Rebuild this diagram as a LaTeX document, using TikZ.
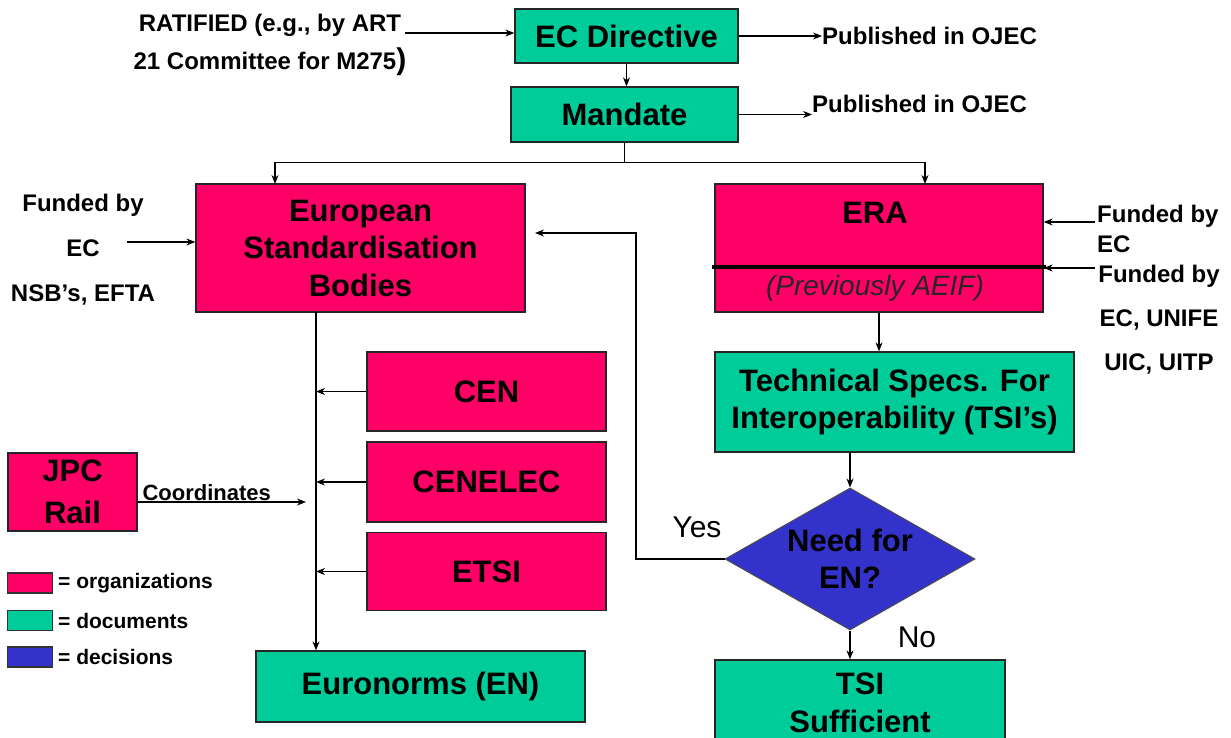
\documentclass[tikz,border=0pt]{standalone}
\usepackage{fontspec}
\setmainfont{Liberation Sans}
\usetikzlibrary{shapes.geometric,arrows.meta}

\definecolor{orgpink}{HTML}{FF0066}
\definecolor{docgreen}{HTML}{00CC99}
\definecolor{decblue}{HTML}{3333CC}

\tikzset{
  box/.style={draw=black!85, line width=1.3pt, inner sep=0pt, align=center,
    font=\fontsize{31}{37.5}\selectfont\bfseries},
  org/.style={box, fill=orgpink},
  doc/.style={box, fill=docgreen},
  note/.style={inner sep=0pt, align=center, font=\fontsize{24}{30}\selectfont\bfseries},
  legbox/.style={draw=black!80, line width=1.2pt, minimum width=45pt, minimum height=20pt, inner sep=0pt},
  legtext/.style={inner sep=0pt, anchor=west, font=\fontsize{21}{21}\selectfont\bfseries},
  link/.style={line width=1.1pt, -{Stealth[length=9pt,width=7pt]}},
  plain/.style={line width=1.1pt},
}

\begin{document}
\begin{tikzpicture}[x=1pt,y=-1pt]
\clip (0,0) rectangle (1231,738);
\fill[white] (0,0) rectangle (1231,738);

% top: directive and mandate
\node[doc, minimum width=223pt, minimum height=54pt] (ecdir) at (626.5,36) {EC Directive};
\node[doc, minimum width=227pt, minimum height=55pt] (mandate) at (624.5,114.5) {Mandate};
\node[note, align=center, font=\fontsize{24}{38}\selectfont\bfseries] (ratified) at (270,45)
  {RATIFIED (e.g., by ART\\21 Committee for M275{\fontsize{30}{30}\selectfont)}};
\node[note, anchor=west] (pub1) at (822,36) {Published in OJEC};
\node[note, anchor=west] (pub2) at (812,104) {Published in OJEC};

\coordinate (ratarrow) at (405,33);
\draw[link] (ratarrow) -- (ratarrow -| ecdir.west);
\draw[link] (ecdir.east) -- (pub1.west);
\draw[link] (mandate.east) -- (mandate.east -| pub2.west);
\draw[link] (ecdir.south) -- (ecdir.south |- mandate.north);

% the two bodies
\node[org, minimum width=329pt, minimum height=128pt] (esb) at (360.5,248)
  {European\\Standardisation\\Bodies};
\node[org, minimum width=328pt, minimum height=128pt] (era) at (879,248) {};
\node[inner sep=0pt, font=\fontsize{31}{37}\selectfont\bfseries] (eraname) at (875,213) {ERA};
\node[inner sep=0pt, text=black!85, font=\fontsize{28}{28}\selectfont\itshape] (eraprev) at (875,288) {(Previously AEIF)};
\draw[line width=3.5pt] (712,267) -- (1046,267);

\draw[plain] (mandate.south) -- ++(0,20) coordinate (split);
\draw[link] (split) -| (275,184);
\draw[link] (split) -| (925,184);

% funding
\node[note, font=\fontsize{24}{45}\selectfont\bfseries] (fundesb) at (83,250) {Funded by\\EC\\NSB’s, EFTA};
\coordinate (fundarrow) at (127,242);
\draw[link] (fundarrow) -- (fundarrow -| esb.west);

\node[note, align=left, anchor=north west, font=\fontsize{24}{30}\selectfont\bfseries] (fundera) at (1097,205) {Funded by\\EC};
\node[note, anchor=north, font=\fontsize{24}{44}\selectfont\bfseries] (fundaeif) at (1159,265) {Funded by\\EC, UNIFE\\UIC, UITP};
\coordinate (fundera1) at (1095,222);
\coordinate (fundera2) at (1095,268);
\draw[link] (fundera1) -- (fundera1 -| era.east);
\draw[link] (fundera2) -- (fundera2 -| era.east);

% right branch
\node[doc, minimum width=359pt, minimum height=100pt] (tsi) at (894.5,402)
  {Technical Specs. For\\Interoperability (TSI’s)};
\node[diamond, draw=black!70, line width=1pt, fill=decblue, minimum width=250pt, minimum height=142pt,
  inner sep=0pt, aspect=1.76, align=center, font=\fontsize{31}{37}\selectfont\bfseries] (need) at (850,559) {Need for\\EN?};
\node[doc, minimum width=290pt, minimum height=86pt] (tsisuff) at (860,703) {TSI\\Sufficient};

\draw[link] (era.south) -- (era.south |- tsi.north);
\draw[link] (tsi.south -| need.north) -- (need.north);
\draw[link] (need.south) -- (need.south |- tsisuff.north);
\node[inner sep=0pt, font=\fontsize{30}{30}\selectfont] (yes) at (697,527) {Yes};
\node[inner sep=0pt, font=\fontsize{30}{30}\selectfont] (no) at (917,637) {No};
\coordinate (yescorner) at (636,233);
\coordinate (yesend) at (535,233);
\draw[link] (need.west) -| (yescorner) -- (yesend);

% left branch
\node[org, minimum width=239pt, minimum height=79pt] (cen) at (486.5,391.5) {CEN};
\node[org, minimum width=239pt, minimum height=80pt] (cenelec) at (486.5,482) {CENELEC};
\node[org, minimum width=239pt, minimum height=78pt] (etsi) at (486.5,571.5) {ETSI};
\node[doc, minimum width=329pt, minimum height=71pt] (euro) at (420.5,686.5) {Euronorms (EN)};
\node[org, minimum width=129pt, minimum height=78pt, font=\fontsize{31}{42}\selectfont\bfseries] (jpc) at (72.5,492) {JPC\\Rail};

\coordinate (trunktop) at (316,312);
\draw[link] (trunktop) -- (trunktop |- euro.north);
\draw[link] (cen.west) -- (cen.west -| trunktop);
\draw[link] (cenelec.west) -- (cenelec.west -| trunktop);
\draw[link] (etsi.west) -- (etsi.west -| trunktop);
\coordinate (coordend) at (306,502);
\draw[link] (jpc.east |- coordend) -- (coordend)
  node[pos=0.02, anchor=south west, inner sep=1pt, font=\fontsize{22}{22}\selectfont\bfseries] {Coordinates};

% legend
\node[legbox, fill=orgpink] (legorg) at (30,583) {};
\node[legbox, fill=docgreen] (legdoc) at (30,620.5) {};
\node[legbox, fill=decblue] (legdec) at (30,657) {};
\node[legtext] (legorgtxt) at (58,583) {= organizations};
\node[legtext] (legdoctxt) at (58,620.5) {= documents};
\node[legtext] (legdectxt) at (58,657) {= decisions};
\end{tikzpicture}
\end{document}
